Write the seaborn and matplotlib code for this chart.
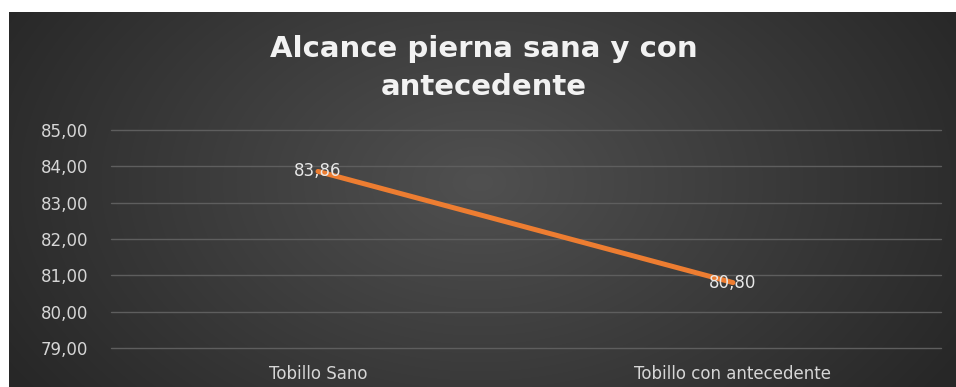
import numpy as np
import matplotlib
matplotlib.use("Agg")
import matplotlib.pyplot as plt
import seaborn as sns
import pandas as pd

categories = ["Tobillo Sano", "Tobillo con antecedente"]
values = [83.86, 80.80]
y_ticks = [79, 80, 81, 82, 83, 84, 85]
title = "Alcance pierna sana y con\nantecedente"

sns.set_theme(style="dark")
plt.rcParams['font.family'] = ['DejaVu Sans']

W, H = 956, 387
fig = plt.figure(figsize=(W / 100, H / 100), dpi=100, facecolor="white")

# background panel with radial gradient
bx0, by0 = 9, 12
bg = fig.add_axes([bx0 / W, 0, (W - bx0) / W, (H - by0) / H])
bg.set_axis_off()
yy, xx = np.mgrid[0:H - by0, 0:W - bx0]
cx, cy = 470, 170
r = np.sqrt(((xx - cx) / 540.0) ** 2 + ((yy - cy) / 360.0) ** 2)
r = np.clip(r, 0, 1)
inner = np.array([0x50, 0x50, 0x50]) / 255
outer = np.array([0x28, 0x28, 0x28]) / 255
img = inner[None, None, :] * (1 - r[..., None]) + outer[None, None, :] * r[..., None]
bg.imshow(img, aspect="auto", extent=[0, 1, 0, 1], origin="upper")
bg.set_xlim(0, 1)
bg.set_ylim(0, 1)

# main axes
left, right = 110.5, 940.5
top, bottom = 130, 348
ax = fig.add_axes([left / W, (H - bottom) / H, (right - left) / W, (bottom - top) / H])
ax.set_facecolor("none")
df = pd.DataFrame({"cat": categories, "val": values})
sns.lineplot(data=df, x="cat", y="val", ax=ax, color="#ED7D31", linewidth=3.6,
             solid_capstyle="round", sort=False)
ax.set_xlim(-0.5, 1.5)
ax.set_ylim(79, 85)
ax.set_yticks(y_ticks)
ax.set_yticklabels([f"{v:.2f}".replace(".", ",") for v in y_ticks])
ax.set_xlabel("")
ax.set_ylabel("")
for s in ax.spines.values():
    s.set_visible(False)
ax.grid(axis="y", color="#5e5e5e", linewidth=1.0)
ax.grid(axis="x", visible=False)
for gl in ax.get_ygridlines():
    gl.set_clip_on(False)
ax.tick_params(axis="y", colors="#d6d6d6", labelsize=12, length=0, pad=16)
ax.tick_params(axis="x", colors="#d6d6d6", labelsize=12, length=0, pad=12)
for lab in ax.get_yticklabels() + ax.get_xticklabels():
    lab.set_color("#d6d6d6")

for i, v in enumerate(values):
    ax.text(i, v, f"{v:.2f}".replace(".", ","), ha="center", va="center",
            color="#e8e8e8", fontsize=12)

fig.text(484 / W, 1 - 68 / H, title, ha="center", va="center", color="#f2f2f2",
         fontsize=21, fontweight="bold", linespacing=1.45)

fig.savefig("out.png", dpi=100, facecolor="white")
